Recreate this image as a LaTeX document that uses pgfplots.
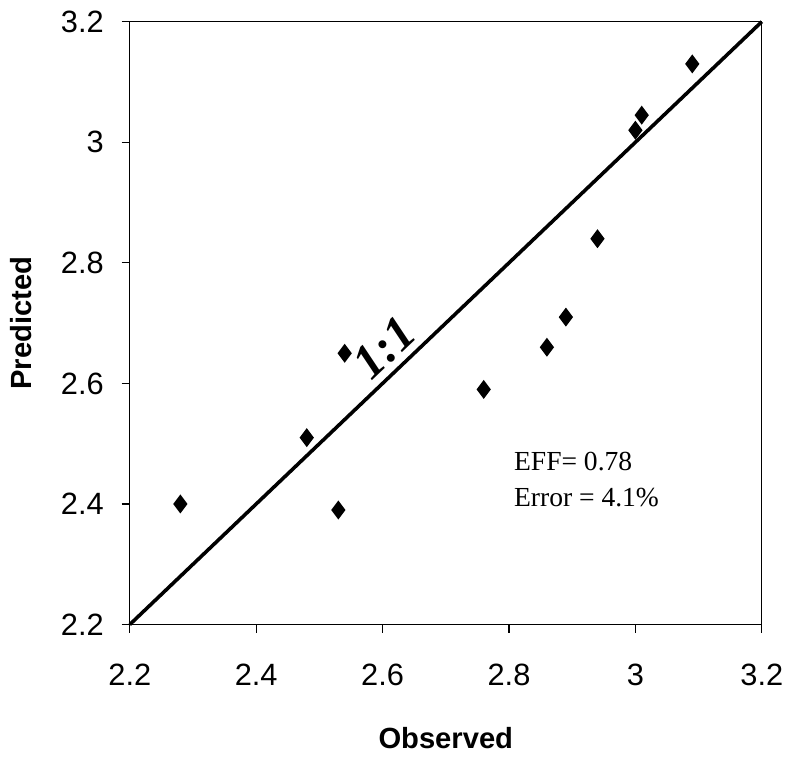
\documentclass[border=0pt]{standalone}
\usepackage{pgfplots}
\pgfplotsset{compat=1.18}
\usepackage{fontspec}
\setmainfont{Liberation Serif}
\newfontfamily\arial{Liberation Sans}

\begin{document}
\begin{tikzpicture}
\begin{axis}[
  width=195pt, height=186pt, scale only axis,
  xmin=2.2, xmax=3.2, ymin=2.2, ymax=3.2,
  xtick={2.2,2.4,...,3.2}, ytick={2.2,2.4,...,3.2},
  xticklabels={2.2,2.4,2.6,2.8,3,3.2},
  yticklabels={2.2,2.4,2.6,2.8,3,3.2},
  tick pos=left, tick align=outside, major tick length=2.5pt,
  tick style={black, thin},
  axis line style={black, thin},
  tick label style={font=\arial\fontsize{9.5}{11}\selectfont},
  xticklabel style={yshift=-6pt},
  yticklabel style={xshift=-2pt},
  xlabel={\arial\bfseries\fontsize{9}{11}\selectfont Observed},
  ylabel={\arial\bfseries\fontsize{9}{11}\selectfont Predicted},
  xlabel style={yshift=-6pt},
  ylabel style={yshift=2pt},
  clip=false,
]
\addplot[black, line width=1.1pt] coordinates {(2.2,2.2) (3.2,3.2)}
  node[pos=0.43, sloped, above, inner sep=2pt] {\fontsize{15}{17}\selectfont\bfseries\itshape 1:1};
\addplot[only marks, mark=diamond*, mark size=2.6pt, black] coordinates {
  (2.28,2.40) (2.48,2.51) (2.54,2.65) (2.53,2.39) (2.76,2.59)
  (2.86,2.66) (2.89,2.71) (2.94,2.84) (3.00,3.02) (3.01,3.045) (3.09,3.13)};
\node[anchor=north west, align=left, font=\fontsize{8.5}{11}\selectfont]
  at (axis cs:2.79,2.505) {EFF= 0.78\\Error = 4.1\%};
\end{axis}
\end{tikzpicture}
\end{document}
